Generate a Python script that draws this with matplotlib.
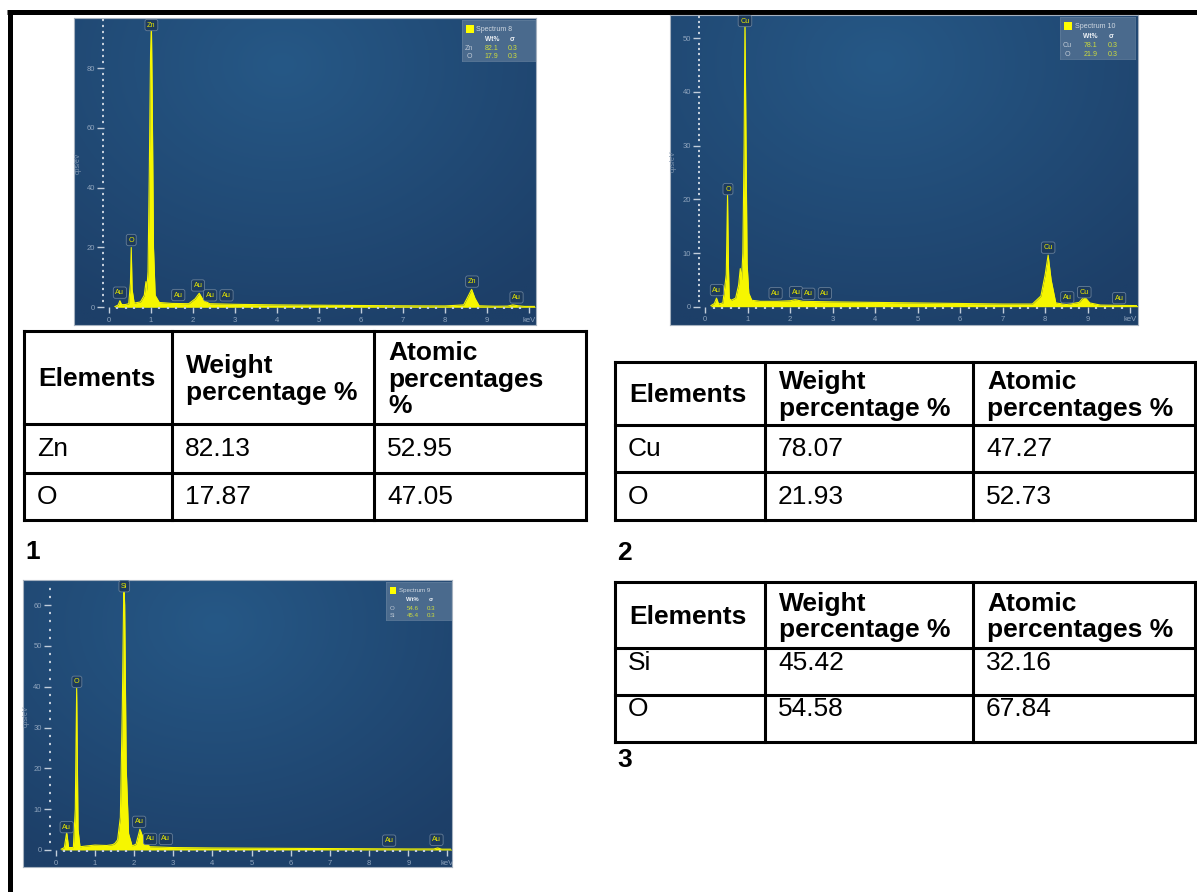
import numpy as np
import matplotlib.pyplot as plt
from matplotlib.patches import Rectangle

# ---- data ----
# spectrum 1 : ZnO
zno_kev = [0.14, 0.22, 0.26, 0.30, 0.38, 0.47, 0.51, 0.53, 0.55, 0.60, 0.75, 0.84, 0.88, 0.90, 0.93,
           0.96, 0.99, 1.01, 1.03, 1.06, 1.10, 1.2, 1.5, 1.9, 2.05, 2.15, 2.25, 2.4, 3.0, 4.0, 5.0,
           6.0, 7.0, 8.0, 8.45, 8.55, 8.64, 8.72, 8.82, 9.2, 9.5, 9.62, 9.75, 9.9, 10.15]
zno_cps = [0.2, 0.8, 2.2, 0.9, 0.9, 1.2, 8, 20, 6, 1.4, 1.8, 4, 8.6, 5.5, 12,
           45, 85, 95, 70, 20, 4, 1.6, 1.3, 1.2, 2.8, 4.7, 2.3, 1.2, 1.0, 0.8, 0.7,
           0.6, 0.5, 0.45, 0.8, 3.5, 6.0, 3.0, 0.5, 0.35, 0.4, 0.8, 0.5, 0.3, 0.3]
zno_lbl = ['Au', 'O', 'Zn', 'Au', 'Au', 'Au', 'Au', 'Zn', 'Au']
zno_lbl_kev = [0.26, 0.53, 1.01, 1.65, 2.12, 2.41, 2.80, 8.65, 9.71]
zno_lbl_cps = [4.9, 22.5, 94.4, 4.1, 7.3, 4.0, 4.0, 8.6, 3.3]
zno_leg = ['Zn', 'O']
zno_wt = ['82.1', '17.9']

# spectrum 2 : CuO
cuo_kev = [0.14, 0.22, 0.27, 0.32, 0.42, 0.50, 0.53, 0.55, 0.57, 0.62, 0.72, 0.79, 0.83, 0.86, 0.89,
           0.92, 0.94, 0.96, 0.99, 1.03, 1.1, 1.3, 1.7, 2.0, 2.12, 2.3, 3.0, 4.0, 5.0, 6.0, 7.0,
           7.7, 7.9, 8.0, 8.07, 8.14, 8.25, 8.5, 8.8, 8.92, 9.05, 9.3, 10.18]
cuo_cps = [0.2, 0.6, 1.6, 0.5, 0.7, 6, 20.8, 8, 1.5, 1.2, 1.6, 4, 7.1, 5, 10,
           30, 54, 35, 8, 2.5, 1.2, 1.0, 1.0, 1.1, 1.3, 1.0, 0.9, 0.8, 0.7, 0.6, 0.5,
           0.5, 2, 6, 9.6, 5, 0.7, 0.4, 0.8, 1.9, 0.7, 0.3, 0.2]
cuo_lbl = ['Au', 'O', 'Cu', 'Au', 'Au', 'Au', 'Au', 'Cu', 'Au', 'Cu', 'Au']
cuo_lbl_kev = [0.28, 0.54, 0.94, 1.66, 2.14, 2.43, 2.82, 8.07, 8.52, 8.92, 9.74]
cuo_lbl_cps = [3.1, 21.9, 53.2, 2.5, 2.7, 2.4, 2.5, 11.0, 1.75, 2.7, 1.6]
cuo_leg = ['Cu', 'O']
cuo_wt = ['78.1', '21.9']

# spectrum 3 : SiO2
sio_kev = [0.14, 0.22, 0.28, 0.33, 0.45, 0.50, 0.535, 0.57, 0.62, 0.8, 1.0, 1.3, 1.45, 1.51, 1.58,
           1.65, 1.70, 1.74, 1.76, 1.80, 1.86, 1.95, 2.05, 2.15, 2.25, 2.4, 3.0, 4.0, 5.0, 6.0,
           7.0, 8.0, 9.0, 9.65, 9.75, 9.85, 10.12]
sio_cps = [0.2, 0.6, 4.3, 0.6, 0.6, 10, 39.6, 5, 0.8, 1.0, 1.2, 1.1, 1.3, 1.6, 2.5,
           8, 35, 66, 60, 20, 4, 1.0, 1.4, 5.1, 2.5, 0.8, 0.6, 0.5, 0.45, 0.4,
           0.35, 0.3, 0.25, 0.25, 0.5, 0.2, 0.2]
sio_lbl = ['Au', 'O', 'Si', 'Au', 'Au', 'Au', 'Au', 'Au']
sio_lbl_kev = [0.28, 0.54, 1.75, 2.13, 2.41, 2.81, 8.51, 9.72]
sio_lbl_cps = [5.6, 41.2, 64.6, 6.9, 2.7, 2.7, 2.3, 2.5]
sio_leg = ['O', 'Si']
sio_wt = ['54.6', '45.4']
sigma = ['0.3', '0.3']

# tables
head_1 = ['Elements', 'Weight\npercentage %', 'Atomic\npercentages\n%']
head_2 = ['Elements', 'Weight\npercentage %', 'Atomic\npercentages %']
rows_1 = [['Zn', '82.13', '52.95'], ['O', '17.87', '47.05']]
rows_2 = [['Cu', '78.07', '47.27'], ['O', '21.93', '52.73']]
rows_3 = [['Si', '45.42', '32.16'], ['O', '54.58', '67.84']]

W, H = 1197, 892
fig = plt.figure(figsize=(W / 100, H / 100), dpi=100)
plt.rcParams['font.family'] = ['Liberation Sans', 'DejaVu Sans']


def frac(x0, y0, x1, y1):
    return [x0 / W, 1 - y1 / H, (x1 - x0) / W, (y1 - y0) / H]


page = fig.add_axes([0, 0, 1, 1])
page.set_xlim(0, W)
page.set_ylim(H, 0)
page.axis('off')

# page border (top and left)
page.plot([7, W], [11.5, 11.5], color='black', lw=3.6, solid_capstyle='butt')
page.plot([9.8, 9.8], [9.5, H], color='black', lw=3.6, solid_capstyle='butt')

# background gradient
yy, xx = np.mgrid[0:1:200j, 0:1:300j]
t = np.clip(np.sqrt(((xx - 0.45) / 0.8) ** 2 + ((yy - 0.15) / 0.95) ** 2), 0, 1)[..., None]
grad = np.array([38, 88, 134]) / 255 * (1 - t) + np.array([29, 63, 104]) / 255 * t

TICK = '#c3cedb'
TLAB = '#8fa4bd'
YEL = '#f6f600'


def spectrum(panel, x0px, kev_px, y0px, cps_px, kev, cps, ymaj, ymin, lbl, lx, ly,
             leg_box, title, leg_el, leg_wt, ylab_px):
    px0, py0, px1, py1 = panel
    bg = fig.add_axes(frac(*panel))
    bg.imshow(grad, extent=[0, 1, 0, 1], aspect='auto')
    bg.set_xticks([])
    bg.set_yticks([])
    for s in bg.spines.values():
        s.set_color('#a6b2c0')
        s.set_linewidth(0.8)

    left = x0px - 5
    right = px1 - 1
    top = py0 + 1
    ax = fig.add_axes(frac(left, top, right, y0px))
    ax.patch.set_alpha(0)
    ax.set_xlim(-5 / kev_px, (right - x0px) / kev_px)
    ax.set_ylim(0, (y0px - top) / cps_px)
    ax.fill_between(kev, cps, color=YEL, lw=0)
    ax.plot(kev, cps, color=YEL, lw=0.8)
    for s in ax.spines.values():
        s.set_visible(False)

    ax.set_xticks(range(11))
    ax.set_xticklabels([str(i) for i in range(10)] + ['keV'])
    ax.set_xticks(np.arange(0, 10.01, 0.2), minor=True)
    ax.set_yticks(np.arange(0, ax.get_ylim()[1], ymaj))
    ax.set_yticks(np.arange(0, ax.get_ylim()[1], ymin), minor=True)
    ax.tick_params(which='major', length=4, width=1, color=TICK, labelcolor=TLAB,
                   labelsize=5.5, pad=3)
    ax.tick_params(which='minor', length=1.6, width=1.6, color=TICK)
    ax.tick_params(axis='y', which='major', length=5, pad=1.5)

    ax.set_ylabel('cps/eV', fontsize=5, color='#7d93ad')
    ax.yaxis.set_label_coords((ylab_px[0] - left) / (right - left),
                              (y0px - ylab_px[1]) / (y0px - top))

    for name, x, y in zip(lbl, lx, ly):
        ax.text(x, y, name, ha='center', va='center', fontsize=5.2, color='#e4e400',
                clip_on=False,
                bbox=dict(boxstyle='round,pad=0.3', fc='#1c3a5d', ec='#667e98', lw=0.6))

    # legend box
    lx0, ly0, lx1, ly1 = leg_box
    k = (lx1 - lx0) / 73
    lg = fig.add_axes(frac(*leg_box))
    lg.set_xlim(0, 73)
    lg.set_ylim(41, 0)
    lg.set_facecolor('#4a6a8d')
    lg.set_xticks([])
    lg.set_yticks([])
    for s in lg.spines.values():
        s.set_color('#5d7a99')
        s.set_linewidth(0.6)
    fs = 5 * k
    lg.add_patch(Rectangle((4, 5), 7.5, 7.5, fc='#ffff00', ec='none'))
    lg.text(14.5, 9, title, fontsize=fs, color='#cfd8e2', va='center')
    lg.text(29.7, 19.3, 'Wt%', fontsize=fs * 0.95, color='#eef2f6', fontweight='bold',
            ha='center', va='center')
    lg.text(50, 19.3, 'σ', fontsize=fs, color='#eef2f6', fontweight='bold',
            ha='center', va='center')
    for i, (el, wv, sv) in enumerate(zip(leg_el, leg_wt, sigma)):
        yr = 28.3 + 8 * i
        lg.text(7, yr, el, fontsize=fs, color='#c0cad6', ha='center', va='center')
        lg.text(29.7, yr, wv, fontsize=fs, color='#cddc3c', ha='center', va='center')
        lg.text(51, yr, sv, fontsize=fs, color='#cddc3c', ha='center', va='center')
    return ax


spectrum((74, 18, 536, 325), 109, 41.97, 307.3, 2.99, zno_kev, zno_cps, 20, 2,
         zno_lbl, zno_lbl_kev, zno_lbl_cps, (462, 20, 535, 61), 'Spectrum 8',
         zno_leg, zno_wt, (81.7, 163))
spectrum((670, 15, 1138, 325), 705, 42.52, 306.7, 5.37, cuo_kev, cuo_cps, 10, 1,
         cuo_lbl, cuo_lbl_kev, cuo_lbl_cps, (1060, 17, 1135, 59), 'Spectrum 10',
         cuo_leg, cuo_wt, (676.7, 161.7))
spectrum((23, 580, 452, 867), 55.7, 39.18, 850, 4.083, sio_kev, sio_cps, 10, 2,
         sio_lbl, sio_lbl_kev, sio_lbl_cps, (386, 582, 451, 620), 'Spectrum 9',
         sio_leg, sio_wt, (30, 716.7))


def table(cols, rows, head, body, dy=0):
    for x in cols:
        page.plot([x, x], [rows[0], rows[-1]], color='black', lw=2.2,
                  solid_capstyle='projecting')
    for y in rows:
        page.plot([cols[0], cols[-1]], [y, y], color='black', lw=2.2,
                  solid_capstyle='projecting')
    for j, h in enumerate(head):
        page.text(cols[j] + 14, (rows[0] + rows[1]) / 2 + 2, h, fontsize=19,
                  fontweight='bold', va='center', ha='left', linespacing=1.15)
    for i, r in enumerate(body):
        for j, v in enumerate(r):
            page.text(cols[j] + 13, (rows[i + 1] + rows[i + 2]) / 2 + dy, v,
                      fontsize=19, va='center', ha='left')


table([24, 172, 374, 586], [331, 424, 473, 520], head_1, rows_1, 1)
table([615, 765, 973, 1195], [362, 425, 472, 520], head_2, rows_2, 1)
table([615, 765, 973, 1195], [582, 648, 695, 742], head_2, rows_3, -9)

for txt, x, y in [('1', 25, 552), ('2', 617, 553), ('3', 617, 760)]:
    page.text(x, y, txt, fontsize=19, fontweight='bold', va='center', ha='left')

fig.savefig('out.png', dpi=100)
